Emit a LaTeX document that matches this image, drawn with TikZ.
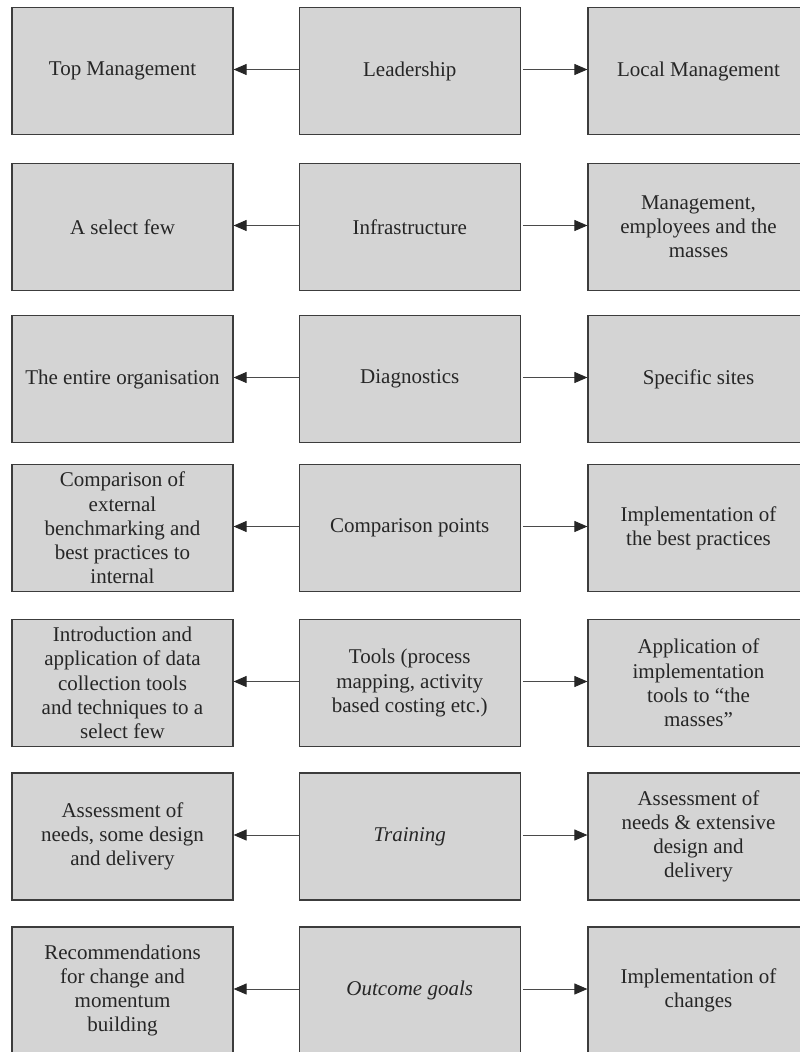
\documentclass[tikz,border=0pt]{standalone}
\usepackage{fontspec}
\setmainfont{Liberation Serif}
\usetikzlibrary{arrows.meta}
\definecolor{boxfill}{HTML}{D4D4D4}
\definecolor{boxline}{HTML}{3C3C3C}
\definecolor{inktext}{HTML}{262626}
\definecolor{connline}{HTML}{4A4A4A}
\definecolor{tipink}{HTML}{262626}
\tikzset{
  cell/.style={draw=boxline, fill=boxfill, line width=1.2pt,
    minimum width=221pt, minimum height=127pt, inner sep=0pt,
    align=center, text=inktext,
    font=\fontsize{21pt}{24.2pt}\selectfont},
  conn/.style={draw=connline, line width=1pt,
    -{Triangle[length=13pt,width=11pt,color=tipink,fill=tipink]}},
}
\begin{document}
\begin{tikzpicture}[x=1pt,y=-1pt]
  \useasboundingbox (0,0) rectangle (800,1052);
  \clip (0,0) rectangle (800,1052);
  % row 1
  \node[cell] (L1) at (122.5,71) {Top Management};
  \node[cell] (C1) at (409.75,71) {Leadership};
  \node[cell] (R1) at (698.5,71) {Local Management};
  % row 2
  \node[cell] (L2) at (122.5,227) {A select few};
  \node[cell] (C2) at (409.75,227) {Infrastructure};
  \node[cell] (R2) at (698.5,227) {Management,\\employees and the\\masses};
  % row 3
  \node[cell] (L3) at (122.5,379) {The entire organisation};
  \node[cell] (C3) at (409.75,379) {Diagnostics};
  \node[cell] (R3) at (698.5,379) {Specific sites};
  % row 4
  \node[cell] (L4) at (122.5,528) {Comparison of\\external\\benchmarking and\\best practices to\\internal};
  \node[cell] (C4) at (409.75,528) {Comparison points};
  \node[cell] (R4) at (698.5,528) {Implementation of\\the best practices};
  % row 5
  \node[cell] (L5) at (122.5,683) {Introduction and\\application of data\\collection tools\\and techniques to a\\select few};
  \node[cell] (C5) at (409.75,683) {Tools (process\\mapping, activity\\based costing etc.)};
  \node[cell] (R5) at (698.5,683) {Application of\\implementation\\tools to “the\\masses”};
  % row 6
  \node[cell] (L6) at (122.5,836.5) {Assessment of\\needs, some design\\and delivery};
  \node[cell] (C6) at (409.75,836.5) {\textit{Training}};
  \node[cell] (R6) at (698.5,836.5) {Assessment of\\needs \& extensive\\design and\\delivery};
  % row 7
  \node[cell] (L7) at (122.5,990.5) {Recommendations\\for change and\\momentum\\building};
  \node[cell] (C7) at (409.75,990.5) {\textit{Outcome goals}};
  \node[cell] (R7) at (698.5,990.5) {Implementation of\\changes};
  % arrows out of the centre column
  \foreach \i in {1,...,7} {
    \draw[conn] ([yshift=1.5pt]C\i.west) -- ([yshift=1.5pt]L\i.east);
    \draw[conn] ([xshift=2pt,yshift=1.5pt]C\i.east) -- ([yshift=1.5pt]R\i.west);
  }
\end{tikzpicture}
\end{document}
